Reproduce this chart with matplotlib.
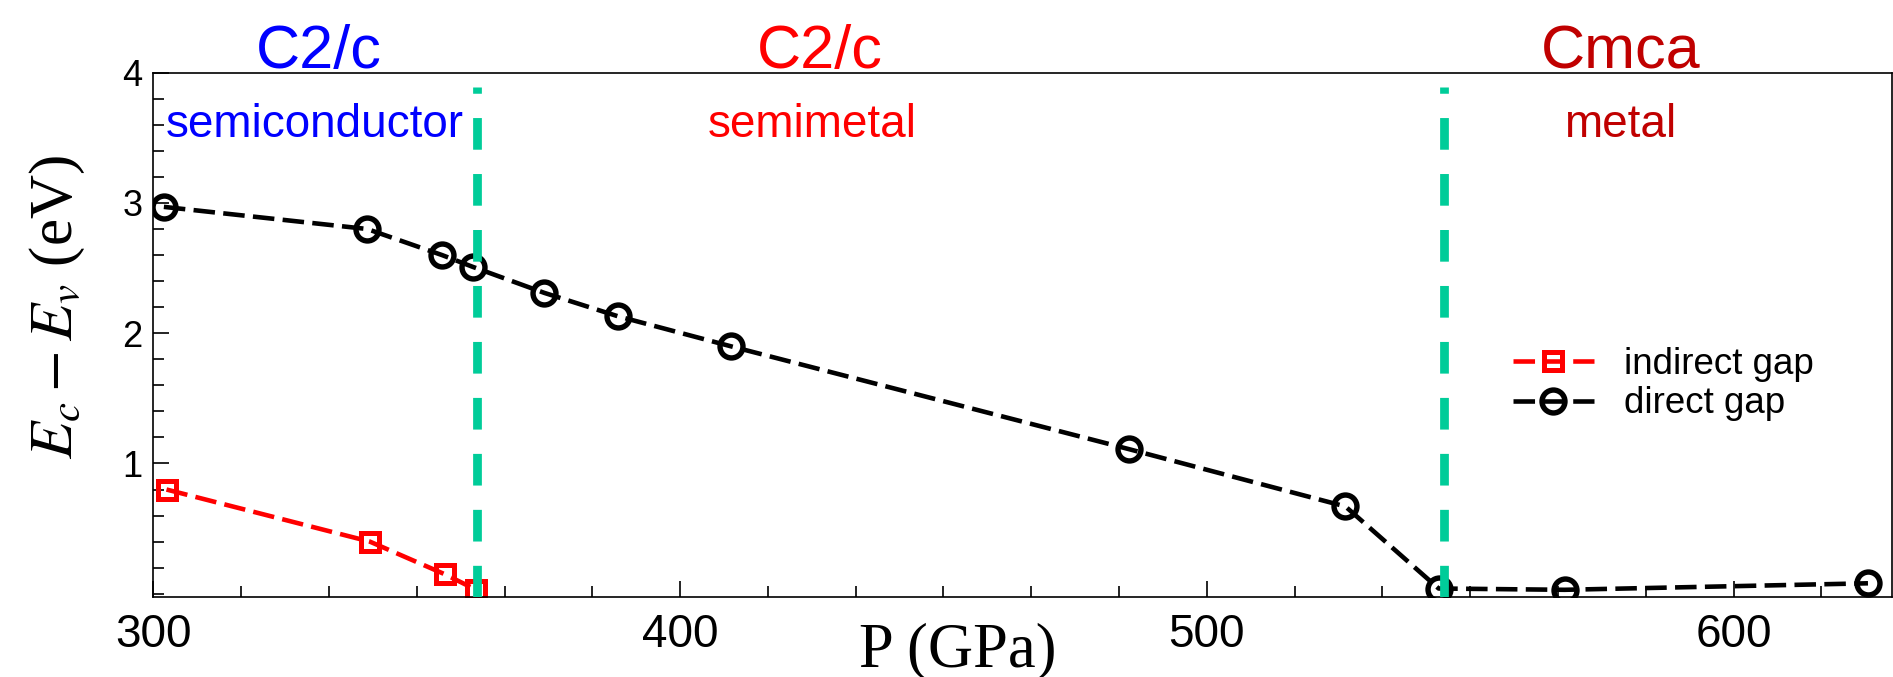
import numpy as np
import matplotlib
matplotlib.use('Agg')
import matplotlib.pyplot as plt
from matplotlib.ticker import MultipleLocator

plt.rcParams['font.family'] = ['Liberation Sans', 'DejaVu Sans']
plt.rcParams['mathtext.fontset'] = 'stix'
plt.rcParams['lines.scale_dashes'] = False

# direct gap (black circles)
p_direct = [302, 340.6, 354.8, 360.6, 374.2, 388.2, 409.6, 485.2, 526.3, 544.0, 567.9, 625.5]
gap_direct = [2.97, 2.80, 2.60, 2.51, 2.31, 2.13, 1.90, 1.11, 0.67, 0.04, 0.03, 0.08]

# indirect gap (red squares)
p_indirect = [302.5, 341.1, 355.3, 361.3]
gap_indirect = [0.80, 0.40, 0.15, 0.03]

# phase boundaries
p_trans = [361.5, 545.0]

# phase labels
phases = ['C2/c', 'C2/c', 'Cmca']
kinds = ['semiconductor', 'semimetal', 'metal']
phase_colors = ['#0000FF', '#FF0000', '#C00000']
phase_x = [331.5, 426.5, 578.5]
kind_x = [330.6, 425.0, 578.5]

ylo, yhi = -0.023, 4.0

fig = plt.figure(figsize=(18.93, 6.77), dpi=100)
ax = fig.add_axes([0.0810, 0.1186, 0.9183, 0.7740])

ax.plot(p_indirect, gap_indirect, color='red', lw=3.3, dashes=(15.5, 6),
        marker='s', ms=13.5, mew=3.6, mfc='none', mec='red', label='indirect gap')
ax.plot(p_direct, gap_direct, color='black', lw=3.3, dashes=(15.5, 6),
        marker='o', ms=16.5, mew=3.9, mfc='none', mec='black', label='direct gap')

for xt in p_trans:
    ax.plot([xt, xt], [ylo, 3.89], color='#00CC99', lw=6.3, dashes=(22.8, 17.5), zorder=3)

for name, c, xp in zip(phases, phase_colors, phase_x):
    ax.text(xp, 4.035, name, color=c, fontsize=44, ha='center', va='baseline', clip_on=False)
for kind, c, xp in zip(kinds, phase_colors, kind_x):
    ax.text(xp, 3.51, kind, color=c, fontsize=33, ha='center', va='baseline')

ax.set_xlim(300, 630)
ax.set_ylim(ylo, yhi)
ax.xaxis.set_major_locator(MultipleLocator(100))
ax.xaxis.set_minor_locator(MultipleLocator(100 / 6))
ax.set_yticks([1, 2, 3, 4])
ax.yaxis.set_minor_locator(MultipleLocator(0.2))

ax.tick_params(which='both', direction='in', top=False, right=False, width=1.2)
ax.tick_params(which='major', length=11.5)
ax.tick_params(which='minor', length=7.7)
ax.tick_params(axis='x', labelsize=33, pad=12)
ax.tick_params(axis='y', labelsize=26, pad=8)
for s in ax.spines.values():
    s.set_linewidth(1.2)

ax.set_xlabel('P (GPa)', fontsize=45, family='Liberation Serif')
ax.xaxis.label.set_va('baseline')
ax.xaxis.set_label_coords(0.4627, -0.1336)
ax.set_ylabel(r'$E_c - E_v$ (eV)', fontsize=44, family='Liberation Serif')
ax.yaxis.label.set_va('center')
ax.yaxis.set_label_coords(-0.0554, 0.553)

ax.legend(loc='upper left', bbox_to_anchor=(1513 / 1893, 1 - 347 / 677),
          bbox_transform=fig.transFigure, frameon=False, fontsize=26.5,
          handlelength=2.2, handletextpad=0.82, labelspacing=0.12,
          borderpad=0, borderaxespad=0)

fig.savefig('out.png', dpi=100)
